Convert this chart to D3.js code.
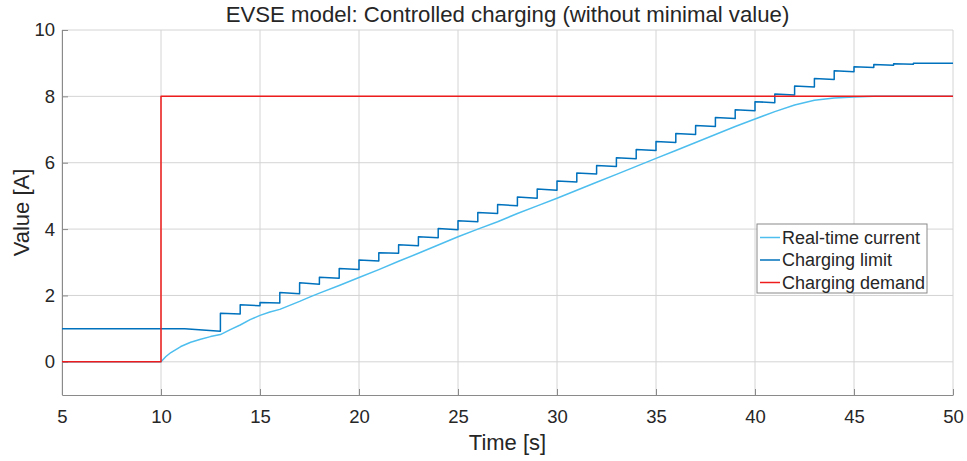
<!DOCTYPE html>
<html>
<head>
<meta charset="utf-8">
<script src="https://cdn.jsdelivr.net/npm/d3@7"></script>
<style>
  body { margin: 0; background: #fff; }
  svg text { font-family: "Liberation Sans", Arial, sans-serif; fill: #262626; }
</style>
</head>
<body>
<svg id="chart" width="967" height="461"></svg>
<script>
// data
const xTicks = [5, 10, 15, 20, 25, 30, 35, 40, 45, 50];
const yTicks = [0, 2, 4, 6, 8, 10];

// real-time current
const rtTime = [5, 10, 10.25, 10.5, 11, 11.5, 12, 12.5, 13, 13.5, 14, 14.5, 15, 15.5, 16, 16.5, 17, 17.5, 18, 19, 20, 21, 22, 23, 24, 25, 26, 27, 28, 29, 30, 31, 32, 33, 34, 35, 36, 37, 38, 39, 40, 41, 42, 43, 44, 45, 46, 50];
const rtValue = [0, 0, 0.16, 0.28, 0.46, 0.59, 0.68, 0.76, 0.82, 0.97, 1.11, 1.27, 1.40, 1.50, 1.58, 1.70, 1.82, 1.95, 2.07, 2.30, 2.54, 2.78, 3.03, 3.27, 3.52, 3.77, 4.00, 4.22, 4.47, 4.70, 4.93, 5.17, 5.41, 5.65, 5.89, 6.13, 6.37, 6.61, 6.85, 7.09, 7.32, 7.54, 7.74, 7.88, 7.95, 7.98, 8.0, 8.0];

// charging limit: segment boundaries, value at segment start and end
const limitTime = [5, 11.2, 13, 14, 15, 16, 17, 18, 19, 20, 21, 22, 23, 24, 25, 26, 27, 28, 29, 30, 31, 32, 33, 34, 35, 36, 37, 38, 39, 40, 41, 42, 43, 44, 45, 46, 47, 48, 50];
const limitStart = [1.0, 1.0, 1.46, 1.72, 1.79, 2.09, 2.38, 2.55, 2.81, 3.07, 3.29, 3.53, 3.77, 4.02, 4.25, 4.50, 4.74, 4.97, 5.21, 5.45, 5.69, 5.92, 6.15, 6.40, 6.64, 6.88, 7.12, 7.36, 7.60, 7.84, 8.07, 8.31, 8.54, 8.77, 8.89, 8.96, 8.98, 9.0];
const limitEnd = [1.0, 0.92, 1.44, 1.69, 1.77, 2.05, 2.34, 2.52, 2.78, 3.04, 3.27, 3.50, 3.74, 3.98, 4.22, 4.47, 4.70, 4.93, 5.17, 5.42, 5.66, 5.89, 6.12, 6.37, 6.61, 6.85, 7.09, 7.33, 7.57, 7.81, 8.04, 8.28, 8.51, 8.74, 8.87, 8.94, 8.97, 9.0];

// charging demand
const demandTime = [5, 10, 10, 50];
const demandValue = [0, 0, 8, 8];

const seriesNames = ["Real-time current", "Charging limit", "Charging demand"];
const seriesColors = ["#4DBEEE", "#0072BD", "#EE1C1C"];

const width = 967, height = 461;
const margin = {top: 30, right: 14, bottom: 66, left: 62};

const svg = d3.select('#chart');

const x = d3.scaleLinear()
  .domain([5, 50])
  .range([margin.left, width - margin.right]);

const y = d3.scaleLinear()
  .domain([-1, 10])
  .range([height - margin.bottom, margin.top]);

// grid
const grid = svg.append('g').attr('class', 'grid');
grid.selectAll('.gx')
  .data(xTicks)
  .join('line')
  .attr('x1', d => x(d)).attr('x2', d => x(d))
  .attr('y1', y(-1)).attr('y2', y(10))
  .attr('stroke', '#d4d4d4').attr('stroke-width', 1);
grid.selectAll('.gy')
  .data(yTicks)
  .join('line')
  .attr('class', 'gy')
  .attr('x1', x(5)).attr('x2', x(50))
  .attr('y1', d => y(d)).attr('y2', d => y(d))
  .attr('stroke', '#d4d4d4').attr('stroke-width', 1);

// axes (MATLAB-style inward ticks)
const xAxis = svg.append('g')
  .attr('transform', `translate(0,${y(-1)})`)
  .call(d3.axisBottom(x).tickValues(xTicks).tickSizeInner(-6).tickSizeOuter(0).tickPadding(15));
const yAxis = svg.append('g')
  .attr('transform', `translate(${x(5)},0)`)
  .call(d3.axisLeft(y).tickValues(yTicks).tickSizeInner(-6).tickSizeOuter(0).tickPadding(7));

[xAxis, yAxis].forEach(a => {
  a.select('.domain').attr('stroke', '#8a8a8a');
  a.selectAll('.tick line').attr('stroke', '#8a8a8a');
  a.selectAll('.tick text')
    .attr('font-size', 18.5)
    .attr('fill', '#262626');
});

// series
const line = d3.line().x(d => x(d[0])).y(d => y(d[1]));

const limitPoints = [];
limitStart.forEach((v, i) => {
  limitPoints.push([limitTime[i], v]);
  limitPoints.push([limitTime[i + 1], limitEnd[i]]);
});

const plot = svg.append('g')
  .attr('fill', 'none')
  .attr('stroke-linejoin', 'round');

plot.append('path')
  .datum(rtTime.map((t, i) => [t, rtValue[i]]))
  .attr('d', line)
  .attr('stroke', seriesColors[0])
  .attr('stroke-width', 1.5);

plot.append('path')
  .datum(limitPoints)
  .attr('d', line)
  .attr('stroke', seriesColors[1])
  .attr('stroke-width', 1.5);

plot.append('path')
  .datum(demandTime.map((t, i) => [t, demandValue[i]]))
  .attr('d', line)
  .attr('stroke', seriesColors[2])
  .attr('stroke-width', 1.5);

// title and labels
svg.append('text')
  .attr('x', (x(5) + x(50)) / 2)
  .attr('y', 22)
  .attr('text-anchor', 'middle')
  .attr('font-size', 22.2)
  .attr('fill', '#000')
  .text('EVSE model: Controlled charging (without minimal value)');

svg.append('text')
  .attr('x', (x(5) + x(50)) / 2)
  .attr('y', 450)
  .attr('text-anchor', 'middle')
  .attr('font-size', 22)
  .attr('fill', '#000')
  .text('Time [s]');

svg.append('text')
  .attr('transform', `translate(29,${(y(-1) + y(10)) / 2}) rotate(-90)`)
  .attr('text-anchor', 'middle')
  .attr('font-size', 22)
  .attr('fill', '#000')
  .text('Value [A]');

// legend
const legend = svg.append('g').attr('transform', 'translate(757,224)');
legend.append('rect')
  .attr('width', 170).attr('height', 69)
  .attr('fill', '#fff')
  .attr('stroke', '#8a8a8a')
  .attr('stroke-width', 1);

const rows = legend.selectAll('.row')
  .data(seriesNames)
  .join('g')
  .attr('transform', (d, i) => `translate(0,${13.5 + i * 22.5})`);
rows.append('line')
  .attr('x1', 3).attr('x2', 23)
  .attr('stroke', (d, i) => seriesColors[i])
  .attr('stroke-width', 1.5);
rows.append('text')
  .attr('x', 25)
  .attr('dy', '0.35em')
  .attr('font-size', 18)
  .attr('fill', '#000')
  .text(d => d);
</script>
</body>
</html>
